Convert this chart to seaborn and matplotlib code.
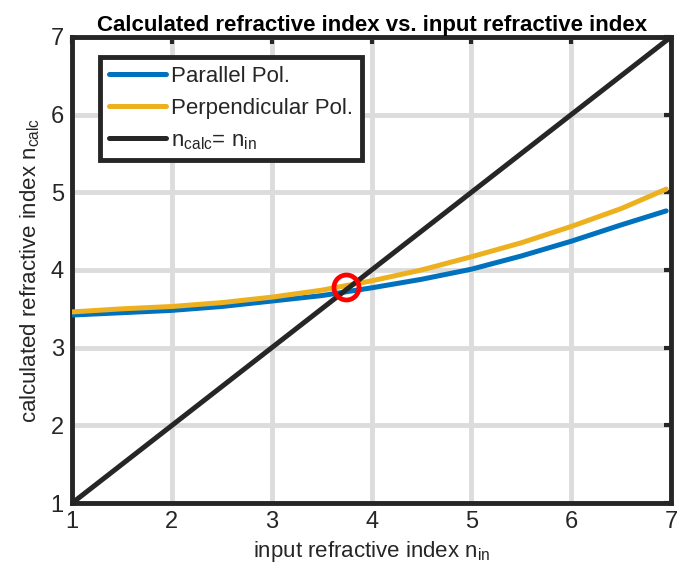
import matplotlib
matplotlib.use("Agg")
import matplotlib.pyplot as plt
import seaborn as sns
import pandas as pd

# data
n_in = [1.0, 1.5, 2.0, 2.5, 3.0, 3.5, 4.0, 4.5, 5.0, 5.5, 6.0, 6.5, 6.95]
n_parallel = [3.42, 3.45, 3.48, 3.53, 3.60, 3.67, 3.77, 3.88, 4.01, 4.18, 4.37, 4.58, 4.76]
n_perpendicular = [3.46, 3.50, 3.53, 3.58, 3.65, 3.74, 3.86, 4.00, 4.17, 4.35, 4.56, 4.79, 5.04]
diag_x = [1, 7]
diag_y = [1, 7]
cross_x = [3.74]
cross_y = [3.775]
ticks = [1, 2, 3, 4, 5, 6, 7]

sns.set_style("white")
plt.rcParams['font.family'] = ['Liberation Sans', 'DejaVu Sans']
plt.rcParams['mathtext.default'] = 'regular'

fig = plt.figure(figsize=(6.8, 5.75), dpi=100)
ax = fig.add_axes([0.106, 0.125, 0.881, 0.811])

BLUE = '#0072BD'
YELLOW = '#EDB120'
BLACK = '#262626'

npts = len(n_in)
df = pd.DataFrame({'x': n_in * 2,
                   'y': n_parallel + n_perpendicular,
                   'series': ['Parallel Pol.'] * npts + ['Perpendicular Pol.'] * npts})
sns.lineplot(data=df, x='x', y='y', hue='series',
             palette=[BLUE, YELLOW], linewidth=3.6, ax=ax, zorder=3)
sns.lineplot(x=diag_x, y=diag_y, color=BLACK, linewidth=3.6, ax=ax,
             label=r'n$_{calc}$= n$_{in}$', zorder=3)
ax.plot(cross_x, cross_y, 'o', markersize=18, markerfacecolor='none',
        markeredgecolor='#FF0000', markeredgewidth=3.4, zorder=5)

ax.set_xlim(1, 7)
ax.set_ylim(1, 7)
ax.set_xticks(ticks)
ax.set_yticks(ticks)
ax.grid(True, color='#dcdcdc', linewidth=3.5, zorder=0)
ax.set_axisbelow(True)

for s in ax.spines.values():
    s.set_linewidth(3.5)
    s.set_color(BLACK)
ax.tick_params(direction='in', length=5, width=3, color=BLACK,
               top=True, right=True, labelsize=17, labelcolor=BLACK, pad=6)

ax.set_xlabel(r'input refractive index n$_{in}$', fontsize=16, color=BLACK, labelpad=4)
ax.set_ylabel(r'calculated refractive index n$_{calc}$', fontsize=16, color=BLACK, labelpad=6)
ax.set_title('Calculated refractive index vs. input refractive index',
             fontsize=16, fontweight='bold', color='black', pad=4)

leg = ax.legend(loc='upper left', bbox_to_anchor=(0.046, 0.957), fontsize=16,
                frameon=True, fancybox=False, handlelength=2.6,
                borderpad=0.4, labelspacing=0.5, handletextpad=0.2,
                borderaxespad=0)
leg.get_frame().set_edgecolor(BLACK)
leg.get_frame().set_linewidth(3.5)
leg.get_frame().set_facecolor('white')
leg.get_frame().set_alpha(1)
for line in leg.get_lines():
    line.set_linewidth(3.6)

fig.savefig('out.png', dpi=100)
